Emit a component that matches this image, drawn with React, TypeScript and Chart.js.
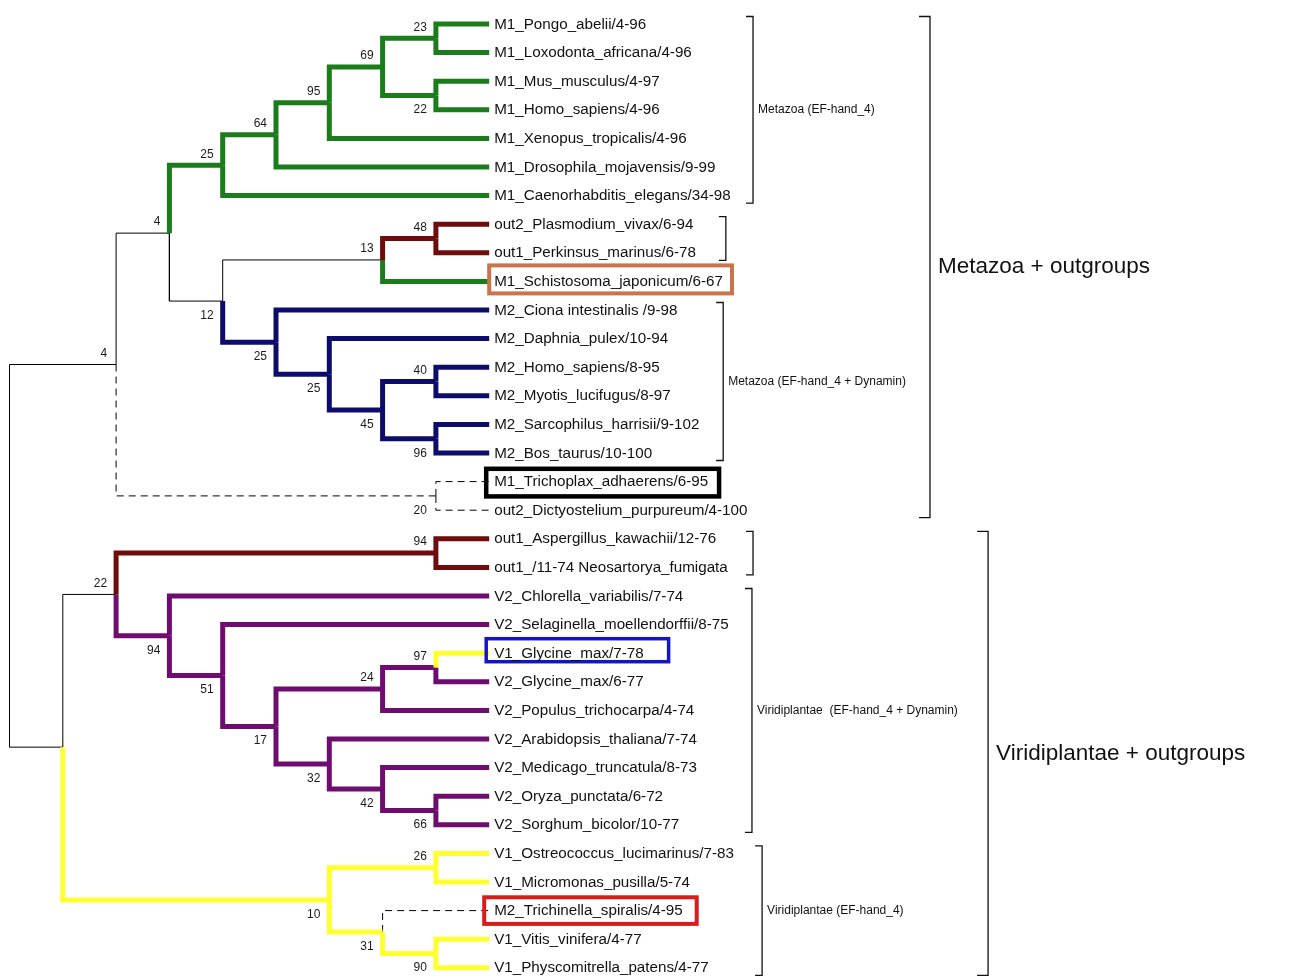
import React, { useEffect, useRef } from "react";
import { Chart, registerables } from "chart.js";

Chart.register(...registerables);

// ---------------- DATA ----------------
const leafNames = [
  "M1_Pongo_abelii/4-96",
  "M1_Loxodonta_africana/4-96",
  "M1_Mus_musculus/4-97",
  "M1_Homo_sapiens/4-96",
  "M1_Xenopus_tropicalis/4-96",
  "M1_Drosophila_mojavensis/9-99",
  "M1_Caenorhabditis_elegans/34-98",
  "out2_Plasmodium_vivax/6-94",
  "out1_Perkinsus_marinus/6-78",
  "M1_Schistosoma_japonicum/6-67",
  "M2_Ciona intestinalis /9-98",
  "M2_Daphnia_pulex/10-94",
  "M2_Homo_sapiens/8-95",
  "M2_Myotis_lucifugus/8-97",
  "M2_Sarcophilus_harrisii/9-102",
  "M2_Bos_taurus/10-100",
  "M1_Trichoplax_adhaerens/6-95",
  "out2_Dictyostelium_purpureum/4-100",
  "out1_Aspergillus_kawachii/12-76",
  "out1_/11-74 Neosartorya_fumigata",
  "V2_Chlorella_variabilis/7-74",
  "V2_Selaginella_moellendorffii/8-75",
  "V1_Glycine_max/7-78",
  "V2_Glycine_max/6-77",
  "V2_Populus_trichocarpa/4-74",
  "V2_Arabidopsis_thaliana/7-74",
  "V2_Medicago_truncatula/8-73",
  "V2_Oryza_punctata/6-72",
  "V2_Sorghum_bicolor/10-77",
  "V1_Ostreococcus_lucimarinus/7-83",
  "V1_Micromonas_pusilla/5-74",
  "M2_Trichinella_spiralis/4-95",
  "V1_Vitis_vinifera/4-77",
  "V1_Physcomitrella_patens/4-77",
];
const leafClades = [
  "G", "G", "G", "G", "G", "G", "G", "R", "R", "G",
  "B", "B", "B", "B", "B", "B", "D", "D", "R", "R",
  "P", "P", "Y", "P", "P", "P", "P", "P", "P", "Y",
  "Y", "D", "Y", "Y",
];
const leafDepth = 9;

const nodeIds = [
  "n23", "n22a", "n69", "n95", "n64", "n25g", "n48", "n13", "n40", "n96",
  "n45", "n25c", "n25b", "n12", "n4a", "n20", "n4b", "n94r", "n97", "n24",
  "n66", "n42", "n32", "n17", "n51", "n94p", "n22b", "n26", "n90", "n31",
  "n10", "n1", "root",
];
const nodeDepths = [
  8, 8, 7, 6, 5, 4, 8, 7, 8, 8,
  7, 6, 5, 4, 3, 8, 2, 8, 8, 7,
  8, 7, 6, 5, 4, 3, 2, 8, 8, 7,
  6, 1, 0,
];
const nodeChildren = [
  ["L0", "L1"], ["L2", "L3"], ["n23", "n22a"], ["n69", "L4"], ["n95", "L5"],
  ["n64", "L6"], ["L7", "L8"], ["n48", "L9"], ["L12", "L13"], ["L14", "L15"],
  ["n40", "n96"], ["L11", "n45"], ["L10", "n25c"], ["n13", "n25b"], ["n25g", "n12"],
  ["L16", "L17"], ["n4a", "n20"], ["L18", "L19"], ["L22", "L23"], ["n97", "L24"],
  ["L27", "L28"], ["L26", "n66"], ["L25", "n42"], ["n24", "n32"], ["L21", "n17"],
  ["L20", "n51"], ["n94r", "n94p"], ["L29", "L30"], ["L32", "L33"], ["L31", "n90"],
  ["n26", "n31"], ["n22b", "n10"], ["n4b", "n1"],
];
const nodeSupport = [
  23, 22, 69, 95, 64, 25, 48, 13, 40, 96,
  45, 25, 25, 12, 4, 20, 4, 94, 97, 24,
  66, 42, 32, 17, 51, 94, 22, 26, 90, 31,
  10, null, null,
];
const nodeClades = [
  "G", "G", "G", "G", "G", "G", "R", "K", "B", "B",
  "B", "B", "B", "K", "K", "D", "K", "R", "P", "P",
  "P", "P", "P", "P", "P", "P", "K", "Y", "Y", "Y",
  "Y", "K", "K",
];

const bracketLabels = [
  "Metazoa (EF-hand_4)",
  "",
  "Metazoa (EF-hand_4 + Dynamin)",
  "Metazoa + outgroups",
  "",
  "Viridiplantae  (EF-hand_4 + Dynamin)",
  "Viridiplantae (EF-hand_4)",
  "Viridiplantae + outgroups",
];
const bracketFrom = [0, 7, 10, 0, 18, 20, 29, 18];
const bracketTo = [6, 8, 15, 17, 19, 28, 33, 33];
const bracketBig = [false, false, false, true, false, false, false, true];

const boxLeaves = [9, 16, 22, 31];
const boxColors = ["#c8744c", "#000000", "#1414c8", "#d81c1c"];

// ---------------- LAYOUT / STYLE ----------------
const W = 1292;
const H = 979;
const depthPx0 = 9.5;
const depthStep = 53.3;
const leafPx0 = 24;
const leafStep = 28.6;
const X_MIN = -depthPx0 / depthStep;
const X_MAX = X_MIN + W / depthStep;
const Y_MIN = -leafPx0 / leafStep;
const Y_MAX = Y_MIN + H / leafStep;

// bracket x positions in depth units
const bracketX = [13.95, 13.44, 13.39, 17.27, 13.95, 13.93, 14.12, 18.36];
const boxLeftOff = [0, -3, -3, -5];
const boxRightPad = [9, 11, 25, 14];
const boxHalfH = [14, 13.8, 11.5, 13.3];
const boxDy = [-2, 1, -3, 0];
const boxLineW = [4, 4.5, 3.5, 4];

const cladeStyle: Record<string, { color: string; width: number; dash: number[] }> = {
  G: { color: "#1b7c1b", width: 5, dash: [] },
  R: { color: "#6e0b0b", width: 5, dash: [] },
  B: { color: "#0c0c6c", width: 5, dash: [] },
  P: { color: "#6f0c6f", width: 5, dash: [] },
  Y: { color: "#ffff30", width: 5, dash: [] },
  K: { color: "#000000", width: 1, dash: [] },
  D: { color: "#000000", width: 1, dash: [7, 5] },
};

const FONT = "'Liberation Sans', Arial, Helvetica, sans-serif";

type NodePos = { x: number; y: number };

function buildTree() {
  const pos: Record<string, NodePos> = {};
  const clade: Record<string, string> = {};
  const parent: Record<string, string> = {};
  const firstChild: Record<string, boolean> = {};
  leafNames.forEach((_, i) => {
    pos["L" + i] = { x: leafDepth, y: i };
    clade["L" + i] = leafClades[i];
  });
  const idx: Record<string, number> = {};
  nodeIds.forEach((id, i) => {
    idx[id] = i;
    clade[id] = nodeClades[i];
    nodeChildren[i].forEach((c, k) => {
      parent[c] = id;
      firstChild[c] = k === 0;
    });
  });
  const place = (id: string): NodePos => {
    if (pos[id]) return pos[id];
    const i = idx[id];
    const ch = nodeChildren[i].map(place);
    const y = (ch[0].y + ch[ch.length - 1].y) / 2;
    pos[id] = { x: nodeDepths[i], y };
    return pos[id];
  };
  place("root");
  return { pos, clade, parent, firstChild };
}

export default function App() {
  const ref = useRef<HTMLCanvasElement | null>(null);

  useEffect(() => {
    if (!ref.current) return;
    const { pos, clade, parent, firstChild } = buildTree();

    const edges: any[] = [];
    Object.keys(parent).forEach((c) => {
      const p = parent[c];
      const pp = pos[p];
      const cp = pos[c];
      const st = cladeStyle[clade[c]];
      edges.push({
        data: [
          { x: pp.x, y: pp.y },
          { x: pp.x, y: cp.y },
          { x: cp.x, y: cp.y },
        ],
        showLine: true,
        borderColor: st.color,
        borderWidth: st.width,
        borderDash: st.dash,
        pointRadius: 0,
        pointHoverRadius: 0,
        fill: false,
        tension: 0,
        borderCapStyle: "butt",
        borderJoinStyle: "miter",
        _thick: st.width > 1,
      });
    });
    // thick edges first in the list so they are painted on top
    edges.sort((a, b) => (b._thick ? 1 : 0) - (a._thick ? 1 : 0));

    const treeText = {
      id: "treeText",
      afterDatasetsDraw(chart: any) {
        const ctx = chart.ctx as CanvasRenderingContext2D;
        const xs = chart.scales.x;
        const ys = chart.scales.y;
        const px = (v: number) => xs.getPixelForValue(v);
        const py = (v: number) => ys.getPixelForValue(v);
        ctx.save();

        const leafX = px(leafDepth);
        const textX = leafX + 5;
        const leafFont = `15.2px ${FONT}`;

        // highlight boxes
        ctx.font = leafFont;
        boxLeaves.forEach((li, k) => {
          const w = ctx.measureText(leafNames[li]).width;
          const left = leafX + boxLeftOff[k];
          const right = textX + w + boxRightPad[k];
          const cy = py(li) + boxDy[k];
          ctx.strokeStyle = boxColors[k];
          ctx.lineWidth = boxLineW[k];
          ctx.setLineDash([]);
          ctx.strokeRect(left, cy - boxHalfH[k], right - left, boxHalfH[k] * 2);
        });

        // leaf labels
        ctx.fillStyle = "#111";
        ctx.textAlign = "left";
        ctx.textBaseline = "middle";
        ctx.font = leafFont;
        leafNames.forEach((name, i) => {
          ctx.fillText(name, textX, py(i) + 0.5);
        });

        // support values
        ctx.font = `12px ${FONT}`;
        ctx.textAlign = "right";
        ctx.fillStyle = "#1a1a1a";
        nodeIds.forEach((id, i) => {
          const s = nodeSupport[i];
          if (s === null || s === undefined) return;
          const p = pos[id];
          const up = firstChild[id];
          ctx.fillText(String(s), px(p.x) - 9, py(p.y) + (up ? -11 : 14.5));
        });

        // brackets
        ctx.strokeStyle = "#111";
        ctx.lineWidth = 1.3;
        ctx.setLineDash([]);
        bracketLabels.forEach((lab, k) => {
          const bx = px(bracketX[k]);
          const big = bracketBig[k];
          const ext = 7.5;
          const y1 = py(bracketFrom[k]) - ext;
          const y2 = py(bracketTo[k]) + ext;
          const tick = big ? 11 : 7;
          ctx.beginPath();
          ctx.moveTo(bx - tick, y1);
          ctx.lineTo(bx, y1);
          ctx.lineTo(bx, y2);
          ctx.lineTo(bx - tick, y2);
          ctx.stroke();
          if (lab) {
            ctx.fillStyle = "#111";
            ctx.textAlign = "left";
            ctx.textBaseline = "middle";
            ctx.font = big ? `22.5px ${FONT}` : `12px ${FONT}`;
            ctx.fillText(lab, bx + (big ? 8 : 5), (y1 + y2) / 2);
          }
        });
        ctx.restore();
      },
    };

    const chart = new Chart(ref.current, {
      type: "scatter",
      data: { datasets: edges },
      options: {
        animation: false,
        responsive: false,
        maintainAspectRatio: false,
        events: [],
        layout: { padding: 0 },
        plugins: { legend: { display: false }, tooltip: { enabled: false } },
        scales: {
          x: { type: "linear", display: false, min: X_MIN, max: X_MAX },
          y: { type: "linear", display: false, reverse: true, min: Y_MIN, max: Y_MAX },
        },
      } as any,
      plugins: [treeText],
    });
    return () => chart.destroy();
  }, []);

  return (
    <div style={{ position: "absolute", left: 0, top: 0, width: W, height: H, background: "#fff" }}>
      <canvas ref={ref} width={W} height={H} style={{ display: "block" }} />
    </div>
  );
}
